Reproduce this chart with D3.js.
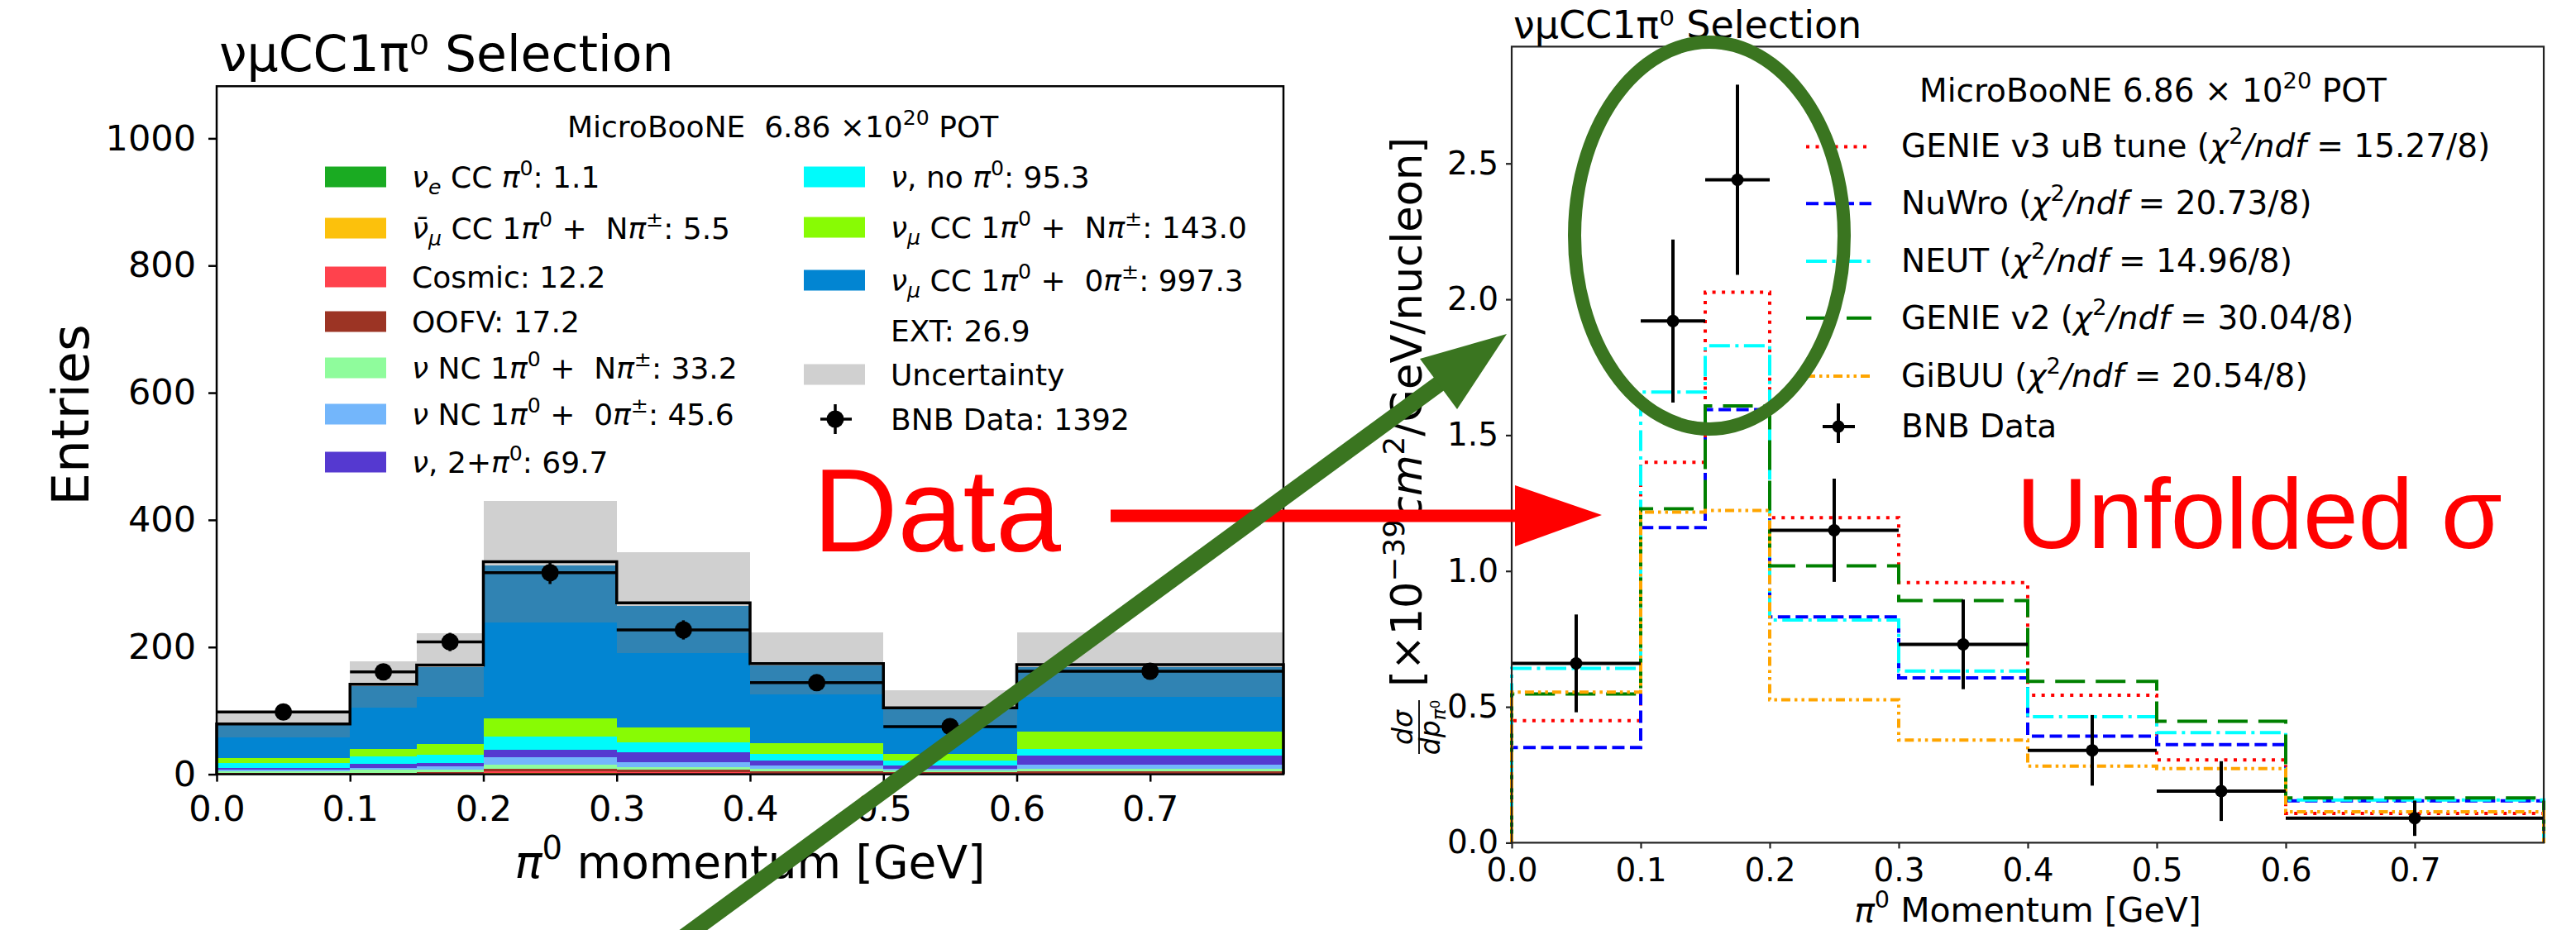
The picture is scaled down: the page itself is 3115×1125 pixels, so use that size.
<!DOCTYPE html>
<html>
<head>
<meta charset="utf-8">
<script src="https://cdn.jsdelivr.net/npm/d3@7"></script>
<style>
  html, body { margin: 0; padding: 0; background: #fff; }
  svg text { white-space: pre; }
</style>
</head>
<body>
<svg id="fig" width="3115" height="1125"></svg>
<script>
// ---------------- binning (pi0 momentum, GeV) ----------------
const binEdges   = [0, 0.1, 0.15, 0.2, 0.3, 0.4, 0.5, 0.6, 0.8];
const binCenters = [0.05, 0.125, 0.175, 0.25, 0.35, 0.45, 0.55, 0.7];

// ---------------- selected events per bin, by category ----------------
const nueCC     = [0, 0.1, 0.1, 0.3, 0.2, 0.2, 0.1, 0.1];
const numubarCC = [0.2, 0.4, 0.6, 1.4, 1.2, 0.7, 0.4, 0.6];
const cosmic    = [0.6, 0.9, 1.2, 2.8, 2.4, 1.5, 1.2, 1.6];
const oofv      = [0.8, 1.3, 1.8, 3.6, 3.2, 2.2, 1.6, 2.7];
const ncNpi     = [3.5, 4.5, 4.0, 6.5, 4.5, 3.5, 2.5, 4.2];
const nc0pi     = [2.6, 3.1, 5.3, 11.7, 7.4, 6.1, 2.9, 6.5];
const multiPi0  = [2.6, 6.0, 5.0, 12.5, 16.0, 8.0, 5.6, 14.0];
const noPi0     = [7.0, 11.2, 13.3, 20.8, 14.8, 10.3, 7.5, 10.4];
const ccNpi     = [8.6, 12.1, 16.0, 28.4, 23.6, 16.6, 10.8, 26.9];
const cc0pi     = [51.8, 99.3, 121.3, 240.1, 191.4, 121.4, 69.9, 102.1];
const extBkg    = [1.5, 2.5, 3.0, 6.0, 5.0, 3.5, 2.0, 3.4];
const mcUncert  = [21, 36, 50, 96, 79, 49, 27, 51];
const bnbCounts = [98, 161, 208, 317, 227, 144, 75, 162];
const bnbErr    = [9.9, 12.7, 14.4, 17.8, 15.1, 12.0, 8.7, 12.7];

// ---------------- unfolded cross section [1e-39 cm2/GeV/nucleon] ----------------
const xsecData = [0.66, 1.92, 2.44, 1.15, 0.73, 0.34, 0.19, 0.09];
const xsecErr  = [0.18, 0.30, 0.35, 0.19, 0.165, 0.13, 0.11, 0.065];
const genieV3  = [0.449, 1.40, 2.026, 1.196, 0.957, 0.543, 0.305, 0.108];
const nuwro    = [0.35, 1.16, 1.594, 0.831, 0.607, 0.392, 0.361, 0.154];
const neut     = [0.642, 1.659, 1.829, 0.82, 0.632, 0.464, 0.405, 0.157];
const genieV2  = [0.547, 1.229, 1.608, 1.019, 0.891, 0.594, 0.447, 0.165];
const gibuu    = [0.554, 1.217, 1.223, 0.526, 0.378, 0.282, 0.273, 0.114];
const chi2     = [15.27, 20.73, 14.96, 30.04, 20.54];
const ndf      = 8;

const xTicks  = [0, 0.1, 0.2, 0.3, 0.4, 0.5, 0.6, 0.7];
const yTicksL = [0, 200, 400, 600, 800, 1000];
const yTicksR = [0, 0.5, 1.0, 1.5, 2.0, 2.5];

// ---------------- styles ----------------
const FONT = "DejaVu Sans, Noto Sans, sans-serif";
const fmt1 = d3.format(".1f");
const svg = d3.select("#fig");

// stacked categories, bottom to top
const categories = [
  { key: "nueCC",     values: nueCC,     fill: "#1aab22" },
  { key: "numubarCC", values: numubarCC, fill: "#fcc10c" },
  { key: "cosmic",    values: cosmic,    fill: "#ff424d" },
  { key: "oofv",      values: oofv,      fill: "#9c3424" },
  { key: "ncNpi",     values: ncNpi,     fill: "#8ffc9c" },
  { key: "nc0pi",     values: nc0pi,     fill: "#73b6fb" },
  { key: "multiPi0",  values: multiPi0,  fill: "#5539d0" },
  { key: "noPi0",     values: noPi0,     fill: "#00fbfb" },
  { key: "ccNpi",     values: ccNpi,     fill: "#88fb04" },
  { key: "cc0pi",     values: cc0pi,     fill: "#0285d2" },
  { key: "ext",       values: extBkg,    fill: "#ffffff" }
];
const fillOf = Object.fromEntries(categories.map(c => [c.key, c.fill]));

// rich text: segments of [text, style]; style '' upright, 'i' italic,
// 'sup' superscript, 'sub' italic subscript, 'subsup' superscript on a subscript
function rich(sel, segs, fs) {
  let shift = 0;
  segs.forEach(([t, s]) => {
    let target = 0, size = fs, italic = false;
    if (s === "i") italic = true;
    if (s === "sup") { target = -0.42 * fs; size = 0.7 * fs; }
    if (s === "sub") { target = 0.22 * fs; size = 0.7 * fs; italic = true; }
    if (s === "subsup") { target = 0.0 * fs; size = 0.5 * fs; }
    const ts = sel.append("tspan").text(t).attr("font-size", size).attr("dy", target - shift);
    if (italic) ts.attr("font-style", "italic");
    shift = target;
  });
  return sel;
}

function stepPoints(vals) {
  const pts = [[binEdges[0], 0]];
  vals.forEach((v, i) => { pts.push([binEdges[i], v]); pts.push([binEdges[i + 1], v]); });
  pts.push([binEdges[binEdges.length - 1], 0]);
  return pts;
}

// =====================================================================
// Left panel: selected event distribution
// =====================================================================
const xL = d3.scaleLinear().domain([0, 0.8]).range([262, 1552]);
const yL = d3.scaleLinear().domain([0, 1082]).range([936.6, 104.3]);

const bins = binCenters.map((c, i) => {
  const o = { i };
  categories.forEach(cat => { o[cat.key] = cat.values[i]; });
  return o;
});
const stacked = d3.stack().keys(categories.map(c => c.key))(bins);
const mcTotal = bins.map((b, i) => d3.sum(categories, c => c.values[i]));

const gL = svg.append("g");
gL.selectAll("g.layer").data(stacked).join("g")
  .attr("class", "layer")
  .attr("fill", s => fillOf[s.key])
  .selectAll("rect").data(s => s).join("rect")
  .attr("shape-rendering", "crispEdges")
  .attr("x", (d, j) => xL(binEdges[j]))
  .attr("width", (d, j) => xL(binEdges[j + 1]) - xL(binEdges[j]))
  .attr("y", d => yL(d[1]))
  .attr("height", d => yL(d[0]) - yL(d[1]));

// MC uncertainty band
gL.append("g").selectAll("rect").data(mcTotal).join("rect")
  .attr("shape-rendering", "crispEdges")
  .attr("x", (d, j) => xL(binEdges[j]))
  .attr("width", (d, j) => xL(binEdges[j + 1]) - xL(binEdges[j]))
  .attr("y", (d, j) => yL(d + mcUncert[j]))
  .attr("height", (d, j) => yL(d - mcUncert[j]) - yL(d + mcUncert[j]))
  .attr("fill", "#808080").attr("fill-opacity", 0.37);

// MC total outline
gL.append("path")
  .attr("d", d3.line().x(p => xL(p[0])).y(p => yL(p[1]))(stepPoints(mcTotal)))
  .attr("fill", "none").attr("stroke", "#000").attr("stroke-width", 3.5);

// BNB data
const dL = gL.append("g").selectAll("g").data(bnbCounts).join("g");
dL.append("line")
  .attr("x1", (d, j) => xL(binEdges[j])).attr("x2", (d, j) => xL(binEdges[j + 1]))
  .attr("y1", d => yL(d)).attr("y2", d => yL(d))
  .attr("stroke", "#000").attr("stroke-width", 3.5);
dL.append("line")
  .attr("x1", (d, j) => xL(binCenters[j])).attr("x2", (d, j) => xL(binCenters[j]))
  .attr("y1", (d, j) => yL(d - bnbErr[j])).attr("y2", (d, j) => yL(d + bnbErr[j]))
  .attr("stroke", "#000").attr("stroke-width", 3.5);
dL.append("circle")
  .attr("cx", (d, j) => xL(binCenters[j])).attr("cy", d => yL(d)).attr("r", 10.5)
  .attr("fill", "#000");

// axes
const axLX = gL.append("g").attr("transform", `translate(0,${yL(0)})`)
  .call(d3.axisBottom(xL).tickValues(xTicks).tickFormat(d3.format(".1f")).tickSize(9).tickPadding(17));
const axLY = gL.append("g").attr("transform", `translate(${xL(0)},0)`)
  .call(d3.axisLeft(yL).tickValues(yTicksL).tickFormat(d3.format("d")).tickSize(10).tickPadding(15));
[axLX, axLY].forEach(a => {
  a.select(".domain").remove();
  a.selectAll("line").attr("stroke", "#000").attr("stroke-width", 2.5);
  a.selectAll("text").attr("font-family", FONT).attr("font-size", 43).attr("fill", "#000");
});
gL.append("rect")
  .attr("x", xL(0)).attr("y", yL(1082))
  .attr("width", xL(0.8) - xL(0)).attr("height", yL(0) - yL(1082))
  .attr("fill", "none").attr("stroke", "#000").attr("stroke-width", 2.5);

// titles and labels
gL.append("text").attr("x", 265).attr("y", 86)
  .attr("font-family", FONT).attr("font-size", 60).text("νμCC1π⁰ Selection");
gL.append("text").attr("transform", "translate(107,502) rotate(-90)")
  .attr("text-anchor", "middle").attr("font-family", FONT).attr("font-size", 63).text("Entries");
rich(gL.append("text").attr("x", 907).attr("y", 1062).attr("text-anchor", "middle")
  .attr("font-family", FONT).attr("font-size", 55),
  [["π", "i"], ["0", "sup"], [" momentum [GeV]", ""]], 55);

// legend
const legL = gL.append("g").attr("font-family", FONT);
rich(legL.append("text").attr("x", 686).attr("y", 166).attr("font-size", 36),
  [["MicroBooNE  6.86 ×10", ""], ["20", "sup"], [" POT", ""]], 36);

const sumLabel = arr => fmt1(d3.sum(arr));
const legendRows = [
  { key: "nueCC", x: 393, y: 214, segs: [["ν", "i"], ["e", "sub"], [" CC ", ""], ["π", "i"], ["0", "sup"], [": " + sumLabel(nueCC), ""]] },
  { key: "numubarCC", x: 393, y: 276, segs: [["ν\u0304", "i"], ["μ", "sub"], [" CC 1", ""], ["π", "i"], ["0", "sup"], [" +  N", ""], ["π", "i"], ["±", "sup"], [": " + sumLabel(numubarCC), ""]] },
  { key: "cosmic", x: 393, y: 335, segs: [["Cosmic: " + sumLabel(cosmic), ""]] },
  { key: "oofv", x: 393, y: 389, segs: [["OOFV: " + sumLabel(oofv), ""]] },
  { key: "ncNpi", x: 393, y: 445, segs: [["ν", "i"], [" NC 1", ""], ["π", "i"], ["0", "sup"], [" +  N", ""], ["π", "i"], ["±", "sup"], [": " + sumLabel(ncNpi), ""]] },
  { key: "nc0pi", x: 393, y: 501, segs: [["ν", "i"], [" NC 1", ""], ["π", "i"], ["0", "sup"], [" +  0", ""], ["π", "i"], ["±", "sup"], [": " + sumLabel(nc0pi), ""]] },
  { key: "multiPi0", x: 393, y: 559, segs: [["ν", "i"], [", 2+", ""], ["π", "i"], ["0", "sup"], [": " + sumLabel(multiPi0), ""]] },
  { key: "noPi0", x: 972, y: 214, segs: [["ν", "i"], [", no ", ""], ["π", "i"], ["0", "sup"], [": " + sumLabel(noPi0), ""]] },
  { key: "ccNpi", x: 972, y: 275, segs: [["ν", "i"], ["μ", "sub"], [" CC 1", ""], ["π", "i"], ["0", "sup"], [" +  N", ""], ["π", "i"], ["±", "sup"], [": " + sumLabel(ccNpi), ""]] },
  { key: "cc0pi", x: 972, y: 339, segs: [["ν", "i"], ["μ", "sub"], [" CC 1", ""], ["π", "i"], ["0", "sup"], [" +  0", ""], ["π", "i"], ["±", "sup"], [": " + sumLabel(cc0pi), ""]] },
  { key: "ext", x: 972, y: 400, segs: [["EXT: " + sumLabel(extBkg), ""]] },
  { key: "unc", x: 972, y: 453, segs: [["Uncertainty", ""]] },
  { key: "data", x: 972, y: 507, segs: [["BNB Data: " + d3.sum(bnbCounts), ""]] }
];
legendRows.forEach(r => {
  if (r.key === "data") {
    legL.append("line").attr("x1", r.x + 20).attr("x2", r.x + 58).attr("y1", r.y).attr("y2", r.y)
      .attr("stroke", "#000").attr("stroke-width", 3.5);
    legL.append("line").attr("x1", r.x + 38).attr("x2", r.x + 38).attr("y1", r.y - 18).attr("y2", r.y + 18)
      .attr("stroke", "#000").attr("stroke-width", 3.5);
    legL.append("circle").attr("cx", r.x + 38).attr("cy", r.y).attr("r", 10.5).attr("fill", "#000");
  } else if (r.key === "unc") {
    legL.append("rect").attr("x", r.x).attr("y", r.y - 12.5).attr("width", 74).attr("height", 25)
      .attr("fill", "#808080").attr("fill-opacity", 0.37);
  } else if (r.key !== "ext") {
    legL.append("rect").attr("x", r.x).attr("y", r.y - 12.5).attr("width", 74).attr("height", 25)
      .attr("fill", fillOf[r.key]);
  }
  rich(legL.append("text").attr("x", r.x + 105).attr("y", r.y + 13).attr("font-size", 36), r.segs, 36);
});

// =====================================================================
// Right panel: unfolded differential cross section
// =====================================================================
const xR = d3.scaleLinear().domain([0, 0.8]).range([1828, 3076]);
const yR = d3.scaleLinear().domain([0, 2.93]).range([1019.4, 56.4]);
const gR = svg.append("g");

const models = [
  { name: "GENIE v3 uB tune", values: genieV3, color: "#ff0000", dash: "4,7.5" },
  { name: "NuWro",            values: nuwro,   color: "#0000ff", dash: "15,6.5" },
  { name: "NEUT",             values: neut,    color: "#00ffff", dash: "25,6.5,4,6.5" },
  { name: "GENIE v2",         values: genieV2, color: "#008000", dash: "36,13" },
  { name: "GiBUU",            values: gibuu,   color: "#ffa500", dash: "11,5,3.5,5,3.5,5" }
];
const stepLine = d3.line().x(p => xR(p[0])).y(p => yR(p[1]));
models.forEach(m => {
  gR.append("path").attr("d", stepLine(stepPoints(m.values)))
    .attr("fill", "none").attr("stroke", m.color).attr("stroke-width", 4)
    .attr("stroke-dasharray", m.dash);
});

const dR = gR.append("g").selectAll("g").data(xsecData).join("g");
dR.append("line")
  .attr("x1", (d, j) => xR(binEdges[j])).attr("x2", (d, j) => xR(binEdges[j + 1]))
  .attr("y1", d => yR(d)).attr("y2", d => yR(d))
  .attr("stroke", "#000").attr("stroke-width", 4);
dR.append("line")
  .attr("x1", (d, j) => xR(binCenters[j])).attr("x2", (d, j) => xR(binCenters[j]))
  .attr("y1", (d, j) => yR(d - xsecErr[j])).attr("y2", (d, j) => yR(d + xsecErr[j]))
  .attr("stroke", "#000").attr("stroke-width", 4);
dR.append("circle")
  .attr("cx", (d, j) => xR(binCenters[j])).attr("cy", d => yR(d)).attr("r", 7.5).attr("fill", "#000");

const axRX = gR.append("g").attr("transform", `translate(0,${yR(0)})`)
  .call(d3.axisBottom(xR).tickValues(xTicks).tickFormat(d3.format(".1f")).tickSize(7).tickPadding(12));
const axRY = gR.append("g").attr("transform", `translate(${xR(0)},0)`)
  .call(d3.axisLeft(yR).tickValues(yTicksR).tickFormat(d3.format(".1f")).tickSize(7).tickPadding(9));
[axRX, axRY].forEach(a => {
  a.select(".domain").remove();
  a.selectAll("line").attr("stroke", "#222").attr("stroke-width", 2.2);
  a.selectAll("text").attr("font-family", FONT).attr("font-size", 39).attr("fill", "#000");
});
gR.append("rect")
  .attr("x", xR(0)).attr("y", yR(2.93))
  .attr("width", xR(0.8) - xR(0)).attr("height", yR(0) - yR(2.93))
  .attr("fill", "none").attr("stroke", "#222").attr("stroke-width", 2.2);

gR.append("text").attr("x", 1830).attr("y", 46)
  .attr("font-family", FONT).attr("font-size", 46).text("νμCC1π⁰ Selection");
rich(gR.append("text").attr("x", 2452).attr("y", 1115).attr("text-anchor", "middle")
  .attr("font-family", FONT).attr("font-size", 41),
  [["π", "i"], ["0", "sup"], [" Momentum [GeV]", ""]], 41);

// rotated y label: fraction followed by units
const yLab = gR.append("g").attr("transform", "translate(1719,913) rotate(-90)").attr("font-family", FONT);
yLab.append("text").attr("x", 33).attr("y", -11).attr("text-anchor", "middle")
  .attr("font-size", 33).attr("font-style", "italic").text("dσ");
yLab.append("line").attr("x1", 1).attr("x2", 66).attr("y1", -3).attr("y2", -3)
  .attr("stroke", "#000").attr("stroke-width", 1.8);
rich(yLab.append("text").attr("x", 33).attr("y", 22).attr("text-anchor", "middle").attr("font-size", 33),
  [["dp", "i"], ["π", "sub"], ["0", "subsup"]], 33);
rich(yLab.append("text").attr("x", 82).attr("y", 0).attr("font-size", 51),
  [["[×10", ""], ["−39", "sup"], ["cm", "i"], ["2", "sup"], ["/GeV/nucleon]", ""]], 51);

// legend
const legR = gR.append("g").attr("font-family", FONT);
rich(legR.append("text").attr("x", 2321).attr("y", 123).attr("font-size", 39),
  [["MicroBooNE 6.86 × 10", ""], ["20", "sup"], [" POT", ""]], 39);
const rowY = [177.4, 246.3, 316, 384.8, 455];
models.forEach((m, k) => {
  legR.append("line").attr("x1", 2184).attr("x2", 2263).attr("y1", rowY[k]).attr("y2", rowY[k])
    .attr("stroke", m.color).attr("stroke-width", 4).attr("stroke-dasharray", m.dash);
  rich(legR.append("text").attr("x", 2299).attr("y", rowY[k] + 13).attr("font-size", 39),
    [[m.name + " (", ""], ["χ", "i"], ["2", "sup"], ["/ndf", "i"], [" = " + chi2[k].toFixed(2) + "/" + ndf + ")", ""]], 39);
});
legR.append("line").attr("x1", 2204).attr("x2", 2243).attr("y1", 516).attr("y2", 516)
  .attr("stroke", "#000").attr("stroke-width", 4);
legR.append("line").attr("x1", 2223).attr("x2", 2223).attr("y1", 488).attr("y2", 536)
  .attr("stroke", "#000").attr("stroke-width", 4);
legR.append("circle").attr("cx", 2223).attr("cy", 516).attr("r", 7.5).attr("fill", "#000");
legR.append("text").attr("x", 2299).attr("y", 529).attr("font-size", 39).text("BNB Data");

// =====================================================================
// Annotations
// =====================================================================
const ann = svg.append("g");
ann.append("text").attr("x", 983).attr("y", 667)
  .attr("font-family", "Liberation Sans, Arial, sans-serif").attr("font-size", 142)
  .attr("fill", "#ff0000").text("Data");
ann.append("text").attr("x", 2438).attr("y", 663)
  .attr("font-family", "Liberation Sans, Arial, sans-serif").attr("font-size", 120)
  .attr("fill", "#ff0000").text("Unfolded σ");
ann.append("line").attr("x1", 1343).attr("x2", 1836).attr("y1", 624).attr("y2", 624)
  .attr("stroke", "#ff0000").attr("stroke-width", 15);
ann.append("polygon").attr("points", "1832,587 1832,661 1937,623").attr("fill", "#ff0000");

const GREEN = "#3a7520";
ann.append("ellipse").attr("cx", 2067).attr("cy", 285).attr("rx", 163).attr("ry", 234)
  .attr("fill", "none").attr("stroke", GREEN).attr("stroke-width", 16);
ann.append("line").attr("x1", 818).attr("y1", 1140).attr("x2", 1742).attr("y2", 463)
  .attr("stroke", GREEN).attr("stroke-width", 20);
ann.append("polygon").attr("points", "1822,404 1717,434 1762,495").attr("fill", GREEN);
</script>
</body>
</html>
